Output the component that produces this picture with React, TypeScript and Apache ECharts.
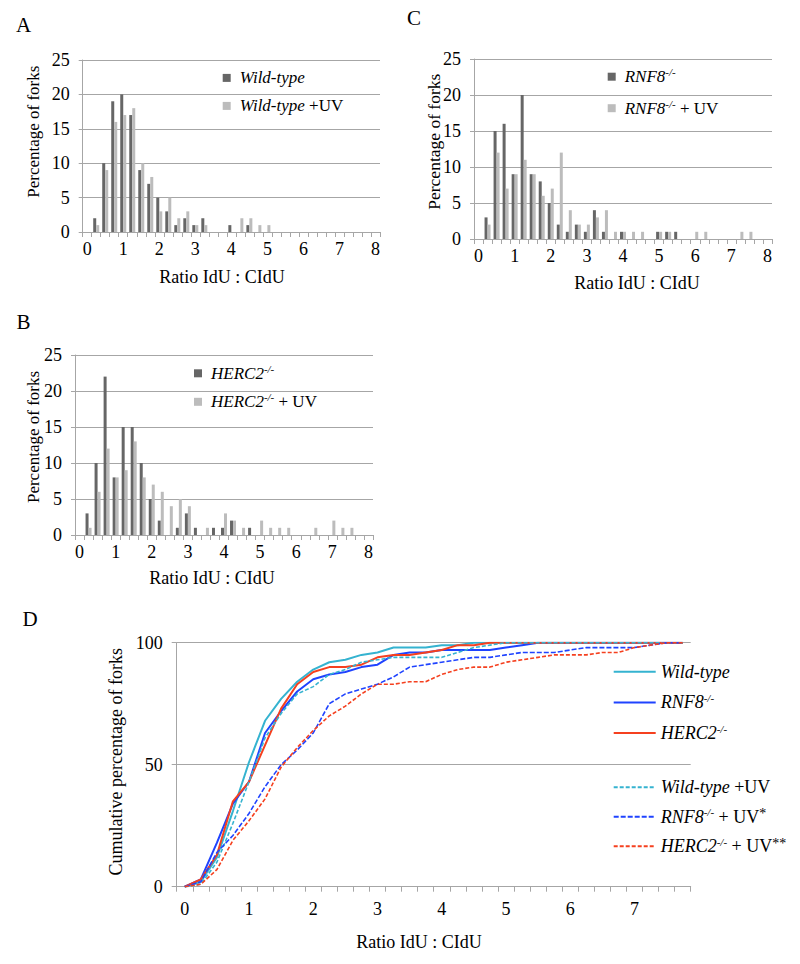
import React, { useEffect, useRef } from 'react';
import * as echarts from 'echarts';

// Histogram bins (ratio IdU : CIdU, 0.25 steps)
const binLabels = ['0','0.25','0.5','0.75','1','1.25','1.5','1.75','2','2.25','2.5','2.75','3','3.25','3.5','3.75','4','4.25','4.5','4.75','5','5.25','5.5','5.75','6','6.25','6.5','6.75','7','7.25','7.5','7.75','8'];
const cumLabels = ['0','0.25','0.5','0.75','1','1.25','1.5','1.75','2','2.25','2.5','2.75','3','3.25','3.5','3.75','4','4.25','4.5','4.75','5','5.25','5.5','5.75','6','6.25','6.5','6.75','7','7.25','7.5','7.75'];

// Panel A
const wildType = [0,2,10,19,20,17,9,7,5,3,1,2,1,2,0,0,1,0,1,0,0,0,0,0,0,0,0,0,0,0,0,0,0];
const wildTypeUV = [0,1,9,16,17,18,10,8,3,5,2,3,1,1,0,0,0,2,2,1,1,0,0,0,0,0,0,0,0,0,0,0,0];
// Panel C
const rnf8 = [0,3,15,16,9,20,9,8,5,2,1,2,1,4,1,0,1,0,0,0,1,1,1,0,0,0,0,0,0,0,0,0,0];
const rnf8UV = [0,2,12,7,9,11,9,6,7,12,4,2,2,3,4,1,1,1,1,0,1,1,0,0,1,1,0,0,0,1,1,0,0];
// Panel B
const herc2 = [0,3,10,22,8,15,15,10,5,2,0,1,3,1,0,1,1,2,0,1,0,0,0,0,0,0,0,0,0,0,0,0,0];
const herc2UV = [0,1,6,12,8,9,13,8,7,6,4,5,4,0,1,0,3,2,1,0,2,1,1,1,0,0,1,0,2,1,1,0,0];
// Panel D (cumulative percentages)
const cumWT = [0,2,12,31,51,68,77,84,89,92,93,95,96,98,98,98,99,99,100,100,100,100,100,100,100,100,100,100,100,100,100,100];
const cumRNF8 = [0,3,18,34,43,63,72,80,85,87,88,90,91,95,96,96,97,97,97,97,98,99,100,100,100,100,100,100,100,100,100,100];
const cumHERC2 = [0,3,13,35,43,58,73,83,88,90,90,91,94,95,95,96,97,99,99,100,100,100,100,100,100,100,100,100,100,100,100,100];
const cumWTUV = [0,1,10,26,43,61,71,79,82,87,89,92,93,94,94,94,94,96,98,99,100,100,100,100,100,100,100,100,100,100,100,100];
const cumRNF8UV = [0,2,14,21,30,41,50,56,63,75,79,81,83,86,90,91,92,93,94,94,95,96,96,96,97,98,98,98,98,99,100,100];
const cumHERC2UV = [0,1,7,19,27,36,49,57,64,70,74,79,83,83,84,84,87,89,90,90,92,93,94,95,95,95,96,96,98,99,100,100];

const FONT = "'Liberation Serif', 'Times New Roman', serif";
const GRAY = '#a6a6a6';
const DARK = '#666666';
const LIGHT = '#bcbcbc';
const CYAN = '#35b3d0';
const BLUE = '#1f43ff';
const RED = '#f5401f';

const richSet = (size: number) => ({
  i: { fontFamily: FONT, fontSize: size, fontStyle: 'italic', color: '#000', lineHeight: 20 },
  n: { fontFamily: FONT, fontSize: size, color: '#000', lineHeight: 20 },
  s: { fontFamily: FONT, fontSize: Math.round(size * 0.62), fontStyle: 'italic', color: '#000', lineHeight: 9, verticalAlign: 'top' },
  a: { fontFamily: FONT, fontSize: Math.round(size * 0.75), color: '#000', lineHeight: 9, verticalAlign: 'top' },
});

const legendText: Record<string, string> = {
  'A wt': '{i|Wild-type}',
  'A wtuv': '{i|Wild-type}{n| +UV}',
  'C rnf8': '{i|RNF8}{s|-/-}',
  'C rnf8uv': '{i|RNF8}{s|-/-}{n| + UV}',
  'B herc2': '{i|HERC2}{s|-/-}',
  'B herc2uv': '{i|HERC2}{s|-/-}{n| + UV}',
  'D wt': '{i|Wild-type}',
  'D rnf8': '{i|RNF8}{s|-/-}',
  'D herc2': '{i|HERC2}{s|-/-}',
  'D wtuv': '{i|Wild-type}{n| +UV}',
  'D rnf8uv': '{i|RNF8}{s|-/-}{n| + UV}{a|*}',
  'D herc2uv': '{i|HERC2}{s|-/-}{n| + UV}{a|**}',
};

const histX = (gridIndex: number) => ({
  type: 'category',
  gridIndex,
  data: binLabels,
  boundaryGap: true,
  axisLine: { show: true, lineStyle: { color: GRAY, width: 1 } },
  axisTick: { show: true, interval: 0, length: 5, lineStyle: { color: GRAY } },
  axisLabel: { interval: 3, margin: 8, color: '#000', fontFamily: FONT, fontSize: 18 },
  splitLine: { show: false },
});

const histY = (gridIndex: number) => ({
  type: 'value',
  gridIndex,
  min: 0,
  max: 25,
  interval: 5,
  axisLine: { show: true, lineStyle: { color: GRAY, width: 1 } },
  axisTick: { show: true, length: 4, lineStyle: { color: GRAY } },
  axisLabel: { margin: 13, color: '#000', fontFamily: FONT, fontSize: 18 },
  splitLine: { show: true, lineStyle: { color: GRAY, width: 1 } },
});

const barSeries = (name: string, idx: number, data: number[], color: string) => ({
  type: 'bar',
  name,
  xAxisIndex: idx,
  yAxisIndex: idx,
  data,
  barWidth: 3,
  barGap: '0%',
  itemStyle: { color },
});

const lineSeries = (name: string, data: number[], color: string, dashed: number[] | null) => ({
  type: 'line',
  name,
  xAxisIndex: 3,
  yAxisIndex: 3,
  data,
  symbol: 'none',
  showSymbol: false,
  lineStyle: dashed ? { color, width: 1.6, type: dashed } : { color, width: 2, type: 'solid' },
  itemStyle: { color },
});

const histLegend = (data: string[], left: number, top: number, gap: number) => ({
  data,
  orient: 'vertical',
  left,
  top,
  padding: 0,
  itemWidth: 8,
  itemHeight: 8,
  itemGap: gap,
  icon: 'rect',
  selectedMode: false,
  formatter: (n: string) => legendText[n],
  textStyle: { fontFamily: FONT, fontSize: 17, color: '#000', padding: [0, 0, 0, 4], rich: richSet(17) },
});

const lineLegend = (data: string[], top: number, gap: number) => ({
  data,
  orient: 'vertical',
  left: 612.7,
  top,
  padding: 0,
  itemWidth: 42,
  itemHeight: 8,
  itemGap: gap,
  selectedMode: false,
  itemStyle: { opacity: 0 },
  formatter: (n: string) => legendText[n],
  textStyle: { fontFamily: FONT, fontSize: 18, color: '#000', rich: richSet(18) },
});

const txt = (text: string, x: number, y: number, size: number, rot = 0) => ({
  type: 'text',
  x,
  y,
  rotation: rot,
  silent: true,
  style: {
    text,
    fill: '#000',
    fontFamily: FONT,
    fontSize: size,
    align: 'center',
    verticalAlign: 'middle',
    textAlign: 'center',
    textVerticalAlign: 'middle',
  },
});

export default function App() {
  const ref = useRef<HTMLDivElement>(null);
  useEffect(() => {
    document.body.style.margin = '0';
    if (!ref.current) return;
    const chart = echarts.init(ref.current, undefined, { renderer: 'svg' });
    chart.setOption({
      animation: false,
      backgroundColor: '#fff',
      textStyle: { fontFamily: FONT },
      grid: [
        { left: 82.7, top: 60, width: 297.3, height: 172, outerBoundsMode: 'none' },
        { left: 474, top: 59, width: 298, height: 180, outerBoundsMode: 'none' },
        { left: 75, top: 355, width: 298, height: 180, outerBoundsMode: 'none' },
        { left: 176.7, top: 642.7, width: 514, height: 244, outerBoundsMode: 'none' },
      ],
      xAxis: [
        histX(0),
        histX(1),
        histX(2),
        {
          type: 'category',
          gridIndex: 3,
          data: cumLabels,
          boundaryGap: true,
          axisLine: { show: true, lineStyle: { color: GRAY, width: 1 } },
          axisTick: { show: true, interval: 0, length: 5, lineStyle: { color: GRAY } },
          axisLabel: { interval: 3, margin: 13, color: '#000', fontFamily: FONT, fontSize: 18 },
          splitLine: { show: false },
        },
      ],
      yAxis: [
        histY(0),
        histY(1),
        histY(2),
        {
          type: 'value',
          gridIndex: 3,
          min: 0,
          max: 100,
          interval: 50,
          axisLine: { show: true, lineStyle: { color: GRAY, width: 1 } },
          axisTick: { show: true, length: 5, lineStyle: { color: GRAY } },
          axisLabel: { margin: 14, color: '#000', fontFamily: FONT, fontSize: 18 },
          splitLine: { show: true, lineStyle: { color: GRAY, width: 1 } },
        },
      ],
      legend: [
        histLegend(['A wt', 'A wtuv'], 222.7, 69.4, 11),
        histLegend(['C rnf8', 'C rnf8uv'], 607.7, 66.7, 13),
        histLegend(['B herc2', 'B herc2uv'], 194, 363.3, 10),
        lineLegend(['D wt', 'D rnf8', 'D herc2'], 662.7, 11.7),
        lineLegend(['D wtuv', 'D rnf8uv', 'D herc2uv'], 778.3, 10.5),
      ],
      series: [
        barSeries('A wt', 0, wildType, DARK),
        barSeries('A wtuv', 0, wildTypeUV, LIGHT),
        barSeries('C rnf8', 1, rnf8, DARK),
        barSeries('C rnf8uv', 1, rnf8UV, LIGHT),
        barSeries('B herc2', 2, herc2, DARK),
        barSeries('B herc2uv', 2, herc2UV, LIGHT),
        lineSeries('D wt', cumWT, CYAN, null),
        lineSeries('D rnf8', cumRNF8, BLUE, null),
        lineSeries('D herc2', cumHERC2, RED, null),
        lineSeries('D wtuv', cumWTUV, CYAN, [4, 2]),
        lineSeries('D rnf8uv', cumRNF8UV, BLUE, [5, 2]),
        lineSeries('D herc2uv', cumHERC2UV, RED, [4, 2]),
      ],
      graphic: [
        txt('A', 23.5, 25, 21),
        txt('C', 414, 18, 21),
        txt('B', 23.5, 322, 21),
        txt('D', 30, 619, 21),
        txt('Percentage of forks', 33, 131.7, 17, Math.PI / 2),
        txt('Percentage of forks', 433.5, 141.7, 17.5, Math.PI / 2),
        txt('Percentage of forks', 33, 437, 17, Math.PI / 2),
        txt('Cumulative percentage of forks', 116, 761.7, 18, Math.PI / 2),
        txt('Ratio IdU : CIdU', 222, 277, 18),
        txt('Ratio IdU : CIdU', 637, 283, 18),
        txt('Ratio IdU : CIdU', 212, 578, 18),
        txt('Ratio IdU : CIdU', 419, 942, 18),
      ],
    });
    return () => chart.dispose();
  }, []);
  return <div ref={ref} style={{ width: 800, height: 964 }} />;
}
